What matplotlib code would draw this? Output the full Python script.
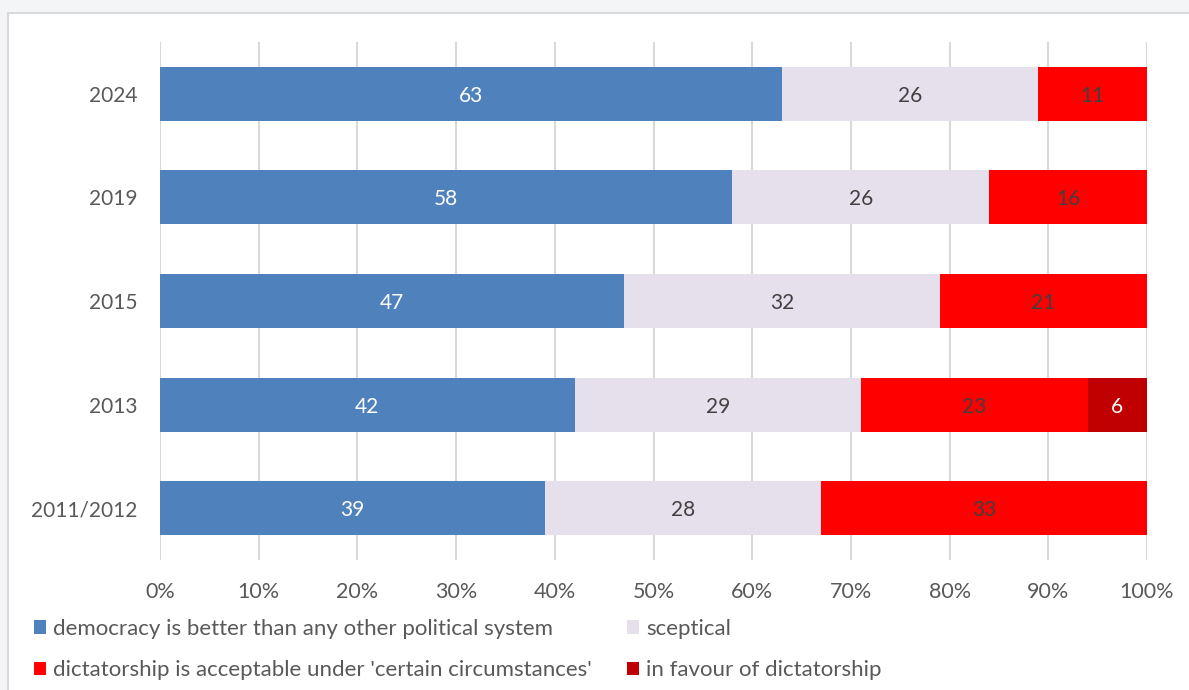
import numpy as np
import matplotlib.pyplot as plt
from matplotlib.patches import Rectangle, Patch

plt.rcParams['font.family'] = ['Lato', 'DejaVu Sans']

# survey waves (top to bottom) and shares in percent
years = ['2024', '2019', '2015', '2013', '2011/2012']
democracy = [63, 58, 47, 42, 39]
sceptical = [26, 26, 32, 29, 28]
acceptable = [11, 16, 21, 23, 33]
favour = [0, 0, 0, 6, 0]

series = [
    ('democracy is better than any other political system', democracy, '#4f81bd', 'white'),
    ('sceptical', sceptical, '#e6e0ec', '#404040'),
    ("dictatorship is acceptable under 'certain circumstances'", acceptable, '#ff0000', '#404040'),
    ('in favour of dictatorship', favour, '#c00000', 'white'),
]

fig = plt.figure(figsize=(11.89, 6.9), dpi=100)
fig.patch.set_facecolor('#f4f5f7')
# white chart panel with a thin grey frame
fig.patches.append(Rectangle((8 / 1189, -0.05), 1.1, 1 - 13 / 690 + 0.05,
                             transform=fig.transFigure, facecolor='white',
                             edgecolor='#d9d9d9', linewidth=1.5, zorder=-1))

ax = fig.add_axes([160 / 1189, 1 - 560 / 690, 987 / 1189, 518 / 690])
ax.set_zorder(2)
ax.set_facecolor('none')

y = np.arange(len(years))
left = np.zeros(len(years))
handles = []
for name, vals, col, tcol in series:
    vals = np.array(vals, dtype=float)
    ax.barh(y, vals, left=left, height=0.52, color=col, zorder=2)
    for yi, (l, v) in enumerate(zip(left, vals)):
        if v > 0:
            ax.text(l + v / 2, yi, f'{v:.0f}', ha='center', va='center_baseline',
                    color=tcol, fontsize=15, zorder=3)
    left += vals
    handles.append(Patch(facecolor=col, label=name))

ax.set_xlim(0, 100)
ax.set_ylim(len(years) - 0.5, -0.5)
ax.set_yticks(y)
ax.set_yticklabels(years)
ax.set_xticks(np.arange(0, 101, 10))
ax.set_xticklabels([f'{t}%' for t in range(0, 101, 10)])
ax.tick_params(length=0, labelsize=15, colors='#595959')
ax.tick_params(axis='x', labelsize=15.5, pad=16)
ax.tick_params(axis='y', pad=16)
ax.grid(axis='x', color='#d9d9d9', linewidth=1.5, zorder=0)
for s in ax.spines.values():
    s.set_visible(False)

order = [handles[0], handles[2], handles[1], handles[3]]
leg = fig.legend(handles=order, ncol=2, loc='upper left',
                 bbox_to_anchor=(34 / 1189, 1 - 619 / 690), frameon=False,
                 fontsize=16, labelcolor='#595959', handlelength=0.55,
                 handleheight=0.55, handletextpad=0.3, columnspacing=1.6,
                 labelspacing=0.95, borderpad=0, borderaxespad=0)

fig.savefig('out.png', dpi=100, facecolor=fig.get_facecolor())
